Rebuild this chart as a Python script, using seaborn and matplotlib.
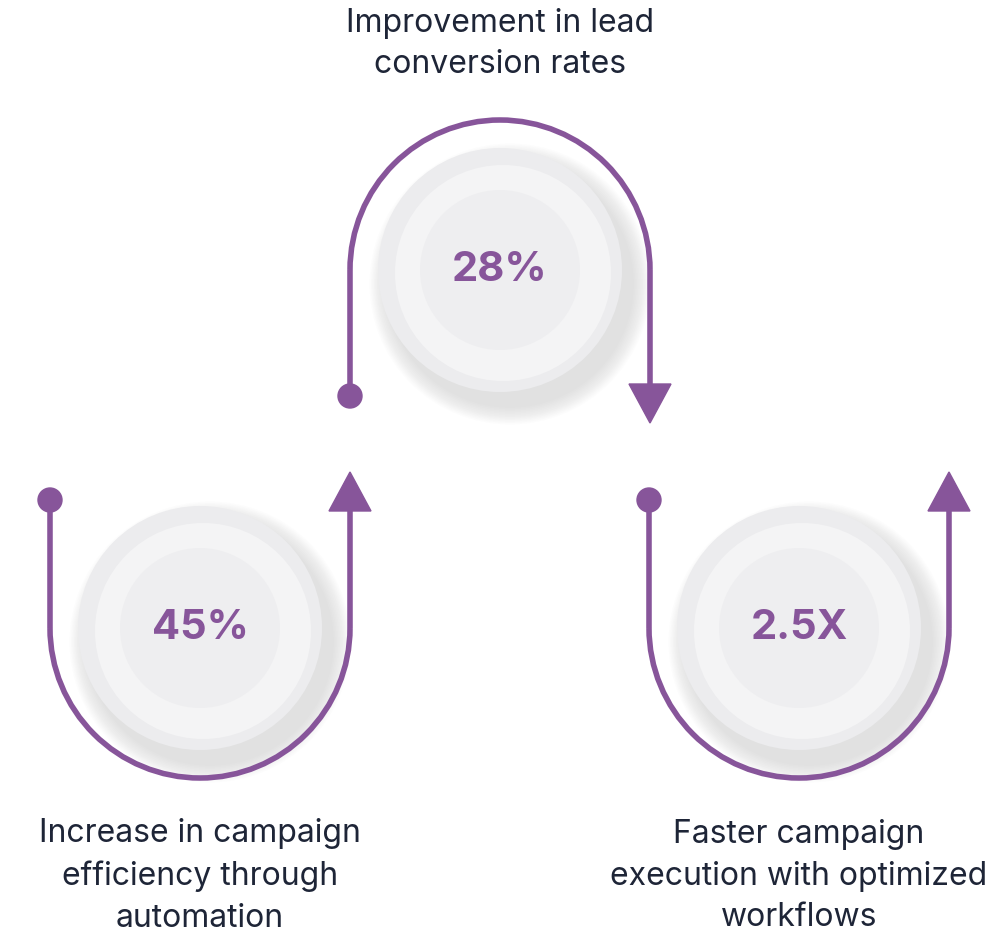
import matplotlib
matplotlib.use("Agg")
import matplotlib.pyplot as plt
import seaborn as sns
import numpy as np
from matplotlib.patches import Circle, Arc, Polygon

sns.set_theme(style="white")
plt.rcParams['font.family'] = ['Inter', 'DejaVu Sans']

values = ['45%', '28%', '2.5X']
captions = ['Increase in campaign\nefficiency through\nautomation',
            'Improvement in lead\nconversion rates',
            'Faster campaign\nexecution with optimized\nworkflows']
centers_x = [200, 500, 799]
centers_y = [628, 270, 628]
caption_y = [876, 44, 876]
arc_up = [False, True, False]   # True: arc over the top of the circle

purple = '#87559A'
dark = '#1E2537'
R_path = 150

fig = plt.figure(figsize=(9.98, 9.42), dpi=100)
ax = fig.add_axes([0, 0, 1, 1])
ax.set_xlim(0, 998)
ax.set_ylim(942, 0)
ax.axis('off')

for cx, cy, val, cap, cyc, up in zip(centers_x, centers_y, values, captions, caption_y, arc_up):
    # soft shadow
    for k in range(12):
        ax.add_patch(Circle((cx + 10, cy + 14), 124 + k * 1.5, color='#9a9a9a',
                            alpha=0.025, lw=0, zorder=1))
    ax.add_patch(Circle((cx, cy), 122, color='#ECECEE', lw=0, zorder=2))
    ax.add_patch(Circle((cx + 3, cy + 3), 108, color='#F4F4F5', lw=0, zorder=3))
    ax.add_patch(Circle((cx, cy), 80, color='#EEEEF0', lw=0, zorder=4))
    ax.text(cx, cy, val, ha='center', va='center', fontsize=30, fontweight='bold',
            color=purple, zorder=6)
    ax.text(cx, cyc, cap, ha='center', va='center', fontsize=23, color=dark,
            linespacing=1.45, zorder=6)

    lx, rx = cx - R_path, cx + R_path
    if up:
        ax.plot([lx, lx], [396, cy], color=purple, lw=4, zorder=5, solid_capstyle='butt')
        ax.plot([rx, rx], [cy, 390], color=purple, lw=4, zorder=5, solid_capstyle='butt')
        ax.add_patch(Arc((cx, cy), 2 * R_path, 2 * R_path, theta1=180, theta2=360,
                         color=purple, lw=4, zorder=5))
        ax.add_patch(Circle((lx, 396), 12, color=purple, zorder=5))
        ax.add_patch(Polygon([[rx - 21, 384], [rx + 21, 384], [rx, 423]],
                             color=purple, zorder=5))
    else:
        ax.plot([lx, lx], [500, cy], color=purple, lw=4, zorder=5, solid_capstyle='butt')
        ax.plot([rx, rx], [cy, 508], color=purple, lw=4, zorder=5, solid_capstyle='butt')
        ax.add_patch(Arc((cx, cy), 2 * R_path, 2 * R_path, theta1=0, theta2=180,
                         color=purple, lw=4, zorder=5))
        ax.add_patch(Circle((lx, 500), 12, color=purple, zorder=5))
        ax.add_patch(Polygon([[rx - 21, 511], [rx + 21, 511], [rx, 472]],
                             color=purple, zorder=5))

fig.savefig('out.png', dpi=100, facecolor='white')
